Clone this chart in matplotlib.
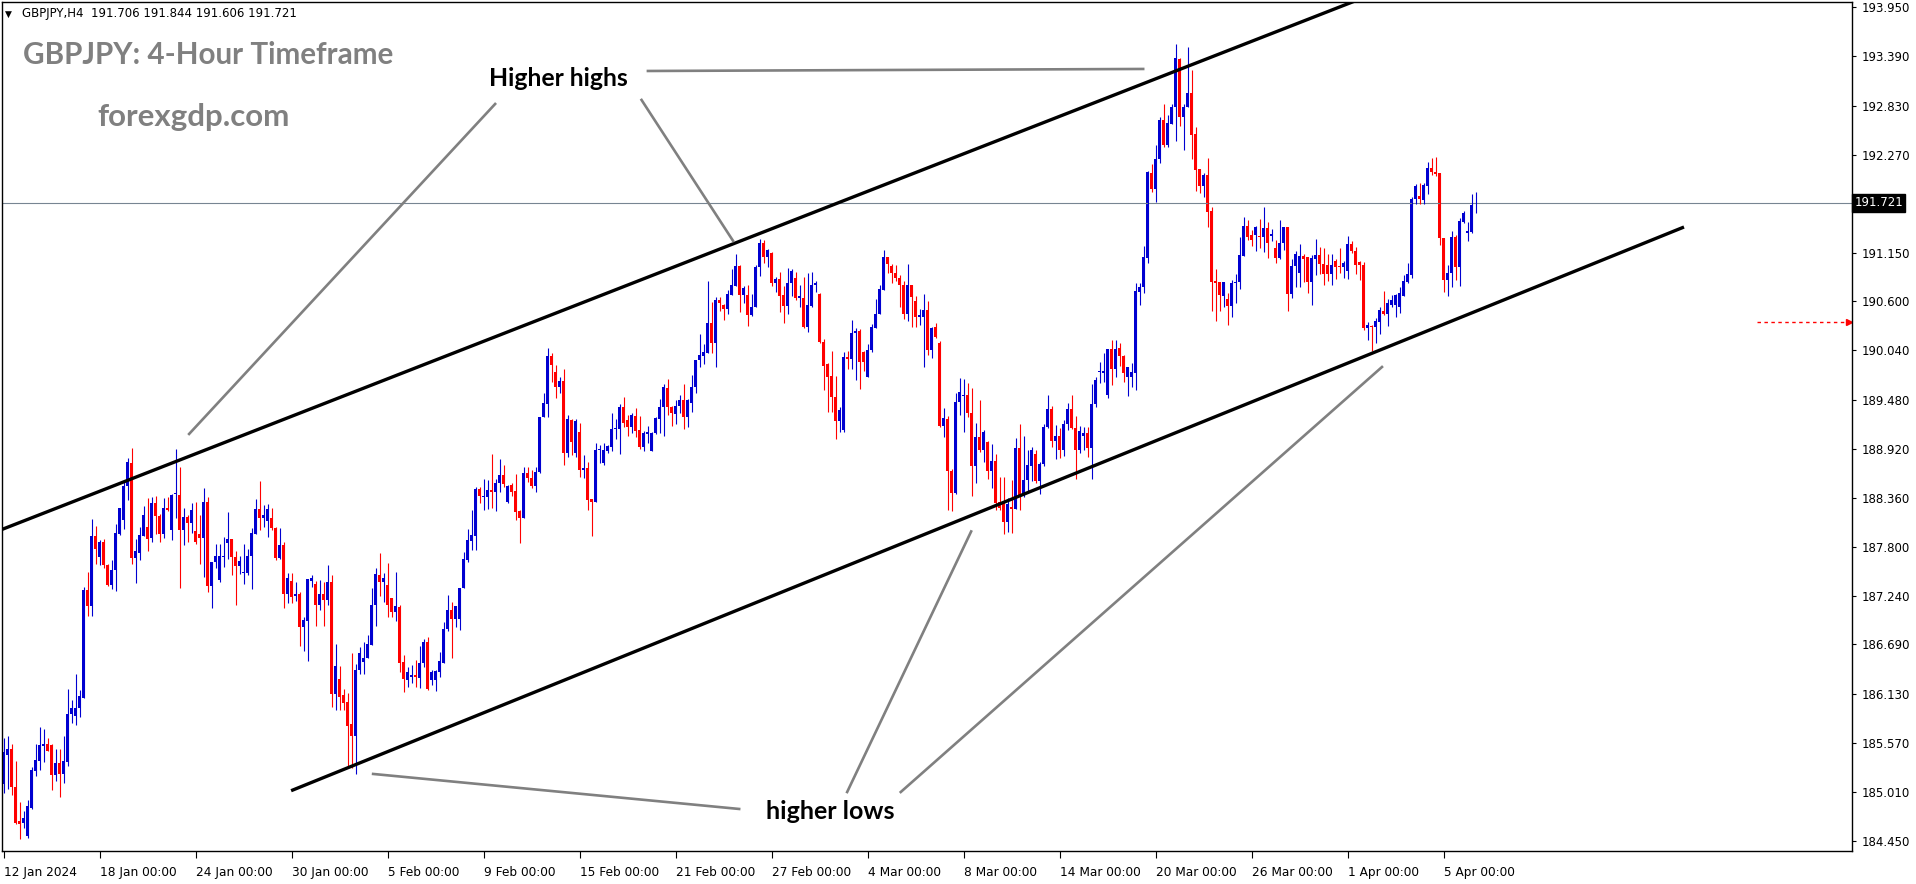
import numpy as np
import matplotlib
matplotlib.use('Agg')
import matplotlib.pyplot as plt

# GBPJPY H4 candles, 12 Jan 2024 .. 8 Apr 2024 (open, high, low, close)
candles = [
    (185.10, 185.62, 185.00, 185.46), (185.43, 185.65, 185.04, 185.50), (185.50, 185.55, 184.97, 185.07),
    (185.07, 185.36, 184.64, 184.66), (184.68, 184.89, 184.47, 184.64), (184.65, 184.79, 184.60, 184.71),
    (184.51, 184.92, 184.48, 184.85), (184.83, 185.29, 184.82, 185.26), (185.25, 185.55, 185.19, 185.37),
    (185.36, 185.75, 185.26, 185.54), (185.53, 185.73, 185.35, 185.56), (185.56, 185.62, 185.47, 185.48),
    (185.54, 185.55, 185.03, 185.20), (185.20, 185.50, 185.13, 185.34), (185.34, 185.50, 184.95, 185.21),
    (185.21, 185.65, 185.11, 185.36), (185.35, 186.18, 185.31, 185.90), (185.90, 186.06, 185.80, 185.97),
    (185.87, 186.35, 185.77, 185.97), (185.97, 186.17, 185.86, 186.10), (186.08, 187.34, 186.08, 187.31),
    (187.31, 187.52, 187.01, 187.13), (187.13, 188.12, 187.01, 187.93), (187.93, 188.04, 187.61, 187.78),
    (187.69, 187.88, 187.60, 187.86), (187.86, 187.89, 187.56, 187.60), (187.60, 187.61, 187.36, 187.37),
    (187.37, 187.65, 187.32, 187.54), (187.54, 188.06, 187.30, 187.96), (187.95, 188.25, 187.94, 188.24),
    (188.11, 188.56, 188.00, 188.50), (188.49, 188.81, 188.33, 188.77), (188.76, 188.93, 187.61, 187.67),
    (187.67, 187.89, 187.39, 187.75), (187.73, 188.03, 187.65, 187.94), (187.93, 188.27, 187.93, 188.17),
    (188.03, 188.36, 187.76, 187.89), (187.90, 188.37, 187.86, 188.30), (188.30, 188.38, 187.95, 188.15),
    (188.15, 188.18, 187.86, 187.95), (187.95, 188.36, 187.90, 188.25), (188.25, 188.37, 188.21, 188.22),
    (187.99, 188.40, 187.88, 188.39), (188.40, 188.92, 188.13, 188.42), (188.39, 188.71, 187.33, 187.99),
    (187.99, 188.25, 187.82, 188.14), (188.14, 188.16, 187.86, 188.07), (188.07, 188.30, 187.96, 188.22),
    (187.98, 188.31, 187.83, 187.86), (187.95, 188.16, 187.61, 187.90), (187.90, 188.47, 187.46, 188.31),
    (188.31, 188.37, 187.29, 187.35), (187.35, 187.63, 187.10, 187.63), (187.63, 187.83, 187.56, 187.70),
    (187.42, 187.83, 187.40, 187.70), (187.69, 187.91, 187.57, 187.70), (187.85, 188.20, 187.66, 187.89),
    (187.89, 187.89, 187.48, 187.69), (187.69, 187.75, 187.14, 187.58), (187.58, 187.70, 187.49, 187.64),
    (187.50, 187.83, 187.38, 187.51), (187.50, 187.78, 187.48, 187.70), (187.70, 188.02, 187.32, 187.96),
    (187.95, 188.35, 187.95, 188.23), (188.23, 188.55, 187.99, 188.13), (188.13, 188.28, 188.03, 188.16),
    (188.10, 188.29, 187.91, 188.23), (188.13, 188.24, 187.99, 188.02), (188.02, 188.03, 187.65, 187.67),
    (187.67, 188.02, 187.66, 187.82), (187.82, 187.86, 187.10, 187.26), (187.26, 187.50, 187.16, 187.45),
    (187.41, 187.50, 187.16, 187.23), (187.24, 187.40, 187.19, 187.26), (187.26, 187.29, 186.67, 186.89),
    (186.89, 187.00, 186.62, 186.97), (186.96, 187.43, 186.50, 187.43), (187.41, 187.48, 187.34, 187.45),
    (187.38, 187.41, 186.90, 187.14), (187.14, 187.42, 187.08, 187.26), (187.26, 187.40, 186.90, 187.20),
    (187.20, 187.60, 187.14, 187.40), (187.40, 187.48, 185.98, 186.13), (186.13, 186.69, 185.94, 186.44),
    (186.30, 186.44, 185.94, 186.09), (186.11, 186.18, 185.94, 186.02), (186.03, 186.14, 185.31, 185.76),
    (185.78, 186.59, 185.28, 185.65), (185.65, 186.47, 185.21, 186.40), (186.40, 186.66, 186.35, 186.59),
    (186.49, 186.72, 186.35, 186.54), (186.53, 186.80, 186.53, 186.69), (186.68, 187.33, 186.68, 187.14),
    (187.14, 187.56, 186.90, 187.49), (187.48, 187.73, 187.24, 187.40), (187.40, 187.50, 187.17, 187.45),
    (187.37, 187.62, 187.00, 187.14), (187.22, 187.22, 187.00, 187.06), (187.06, 187.51, 186.96, 187.13),
    (187.12, 187.14, 186.38, 186.48), (186.49, 186.57, 186.15, 186.30), (186.28, 186.43, 186.20, 186.37),
    (186.32, 186.45, 186.25, 186.34), (186.34, 186.51, 186.21, 186.32), (186.31, 186.67, 186.19, 186.48),
    (186.48, 186.75, 186.43, 186.72), (186.72, 186.77, 186.17, 186.18), (186.29, 186.40, 186.23, 186.37),
    (186.29, 186.40, 186.16, 186.39), (186.38, 186.60, 186.32, 186.50), (186.48, 186.95, 186.48, 186.87),
    (186.86, 187.25, 186.84, 187.08), (187.08, 187.17, 186.54, 186.98), (186.98, 187.13, 186.89, 187.13),
    (186.98, 187.33, 186.85, 187.33), (187.33, 187.74, 187.33, 187.66), (187.65, 188.00, 187.63, 187.88),
    (187.87, 188.22, 187.77, 187.94), (187.93, 188.48, 187.77, 188.46), (188.46, 188.48, 188.30, 188.38),
    (188.37, 188.58, 188.22, 188.38), (188.37, 188.56, 188.23, 188.45), (188.45, 188.86, 188.25, 188.43),
    (188.43, 188.58, 188.21, 188.53), (188.53, 188.80, 188.43, 188.62), (188.62, 188.74, 188.48, 188.52),
    (188.31, 188.51, 188.30, 188.50), (188.51, 188.53, 188.38, 188.43), (188.44, 188.63, 188.11, 188.20),
    (188.21, 188.22, 187.85, 188.13), (188.13, 188.71, 188.13, 188.64), (188.64, 188.71, 188.54, 188.59),
    (188.59, 188.68, 188.47, 188.49), (188.49, 188.71, 188.43, 188.66), (188.65, 189.28, 188.64, 189.28),
    (189.28, 189.55, 189.28, 189.44), (189.43, 190.07, 189.28, 189.98), (189.98, 190.01, 189.68, 189.87),
    (189.79, 189.87, 189.50, 189.62), (189.62, 189.74, 189.55, 189.69), (189.69, 189.83, 188.73, 188.87),
    (188.87, 189.30, 188.83, 189.26), (189.25, 189.26, 188.85, 189.00), (188.87, 189.26, 188.83, 189.24),
    (189.11, 189.21, 188.60, 188.68), (188.68, 188.85, 188.59, 188.70), (188.70, 188.77, 188.22, 188.34),
    (188.35, 188.35, 187.93, 188.31), (188.31, 188.99, 188.31, 188.91), (188.90, 188.96, 188.76, 188.91),
    (188.76, 188.99, 188.73, 188.90), (188.89, 188.96, 188.87, 188.95), (188.94, 189.33, 188.89, 189.15),
    (189.14, 189.26, 189.03, 189.16), (189.15, 189.43, 188.86, 189.39), (189.39, 189.51, 189.17, 189.21),
    (189.25, 189.30, 189.07, 189.17), (189.17, 189.33, 189.10, 189.30), (189.29, 189.38, 189.05, 189.12),
    (189.13, 189.29, 188.92, 188.94), (188.94, 189.12, 188.89, 189.10), (189.09, 189.18, 188.98, 189.11),
    (188.89, 189.11, 188.89, 189.10), (189.10, 189.28, 189.09, 189.27), (189.26, 189.49, 189.10, 189.40),
    (189.39, 189.66, 189.07, 189.62), (189.61, 189.71, 189.30, 189.40), (189.40, 189.41, 189.18, 189.33),
    (189.32, 189.48, 189.20, 189.41), (189.41, 189.53, 189.33, 189.48), (189.48, 189.66, 189.14, 189.28),
    (189.28, 189.49, 189.17, 189.48), (189.44, 189.76, 189.34, 189.62), (189.62, 189.93, 189.55, 189.93),
    (189.93, 190.23, 189.85, 189.99), (189.98, 190.11, 189.88, 190.02), (190.01, 190.83, 190.01, 190.35),
    (190.35, 190.59, 190.01, 190.12), (190.12, 190.65, 189.85, 190.62), (190.62, 190.65, 190.49, 190.58),
    (190.56, 190.57, 190.39, 190.51), (190.51, 190.73, 190.46, 190.68), (190.67, 190.97, 190.67, 190.78),
    (190.77, 191.14, 190.77, 191.00), (191.00, 191.01, 190.48, 190.67), (190.67, 190.77, 190.58, 190.75),
    (190.67, 190.78, 190.32, 190.44), (190.44, 190.68, 190.43, 190.54), (190.53, 191.01, 190.53, 190.99),
    (190.99, 191.31, 190.89, 191.26), (191.26, 191.30, 191.04, 191.10), (191.10, 191.19, 190.99, 191.18),
    (191.15, 191.16, 190.77, 190.81), (190.81, 190.88, 190.71, 190.85), (190.85, 190.93, 190.48, 190.66),
    (190.67, 190.77, 190.35, 190.55), (190.55, 190.98, 190.45, 190.81), (190.81, 190.97, 190.66, 190.94),
    (190.87, 190.93, 190.62, 190.64), (190.64, 190.78, 190.54, 190.66), (190.64, 190.88, 190.29, 190.31),
    (190.31, 190.92, 190.25, 190.56), (190.55, 190.93, 190.54, 190.79), (190.78, 190.83, 190.70, 190.81),
    (190.68, 190.69, 190.12, 190.14), (190.14, 190.17, 189.59, 189.86), (189.88, 189.90, 189.34, 189.74),
    (189.75, 190.03, 189.34, 189.51), (189.51, 189.75, 189.03, 189.24), (189.24, 189.39, 189.11, 189.36),
    (189.13, 190.02, 189.11, 189.96), (189.96, 190.03, 189.83, 189.94), (189.94, 190.39, 189.83, 190.24),
    (190.24, 190.29, 189.70, 190.26), (190.26, 190.28, 189.60, 189.91), (190.02, 190.03, 189.80, 189.91),
    (189.74, 190.11, 189.74, 190.05), (190.05, 190.34, 190.02, 190.31), (190.30, 190.63, 190.30, 190.46),
    (190.45, 190.78, 190.45, 190.74), (190.73, 191.18, 190.73, 191.10), (191.10, 191.11, 190.92, 191.03),
    (191.00, 191.03, 190.81, 190.92), (190.92, 191.01, 190.83, 190.86), (190.87, 190.90, 190.53, 190.78),
    (190.78, 190.83, 190.40, 190.46), (190.46, 191.03, 190.38, 190.78), (190.78, 190.78, 190.31, 190.65),
    (190.60, 190.66, 190.31, 190.42), (190.42, 190.51, 190.33, 190.44), (190.42, 190.68, 189.85, 190.50),
    (190.50, 190.60, 189.99, 190.04), (190.04, 190.31, 189.95, 190.30), (190.31, 190.35, 190.18, 190.19),
    (190.12, 190.15, 189.17, 189.18), (189.18, 189.38, 189.05, 189.27), (189.26, 189.29, 188.22, 188.67),
    (188.67, 188.69, 188.21, 188.41), (188.41, 189.55, 188.40, 189.45), (189.45, 189.73, 189.30, 189.57),
    (189.52, 189.71, 189.11, 189.53), (189.53, 189.67, 189.28, 189.33), (189.33, 189.61, 188.38, 188.72),
    (188.72, 189.21, 188.53, 189.05), (189.05, 189.48, 188.88, 188.90), (188.90, 189.13, 188.77, 189.11),
    (189.00, 189.01, 188.57, 188.67), (188.67, 188.97, 188.47, 188.78), (188.78, 188.86, 188.22, 188.30),
    (188.31, 188.60, 188.22, 188.25), (188.30, 188.60, 187.95, 188.08), (188.08, 188.36, 187.97, 188.29),
    (188.26, 188.56, 187.96, 188.23), (188.23, 189.04, 188.23, 188.93), (188.93, 189.20, 188.22, 188.39),
    (188.39, 189.07, 188.37, 188.56), (188.56, 188.91, 188.43, 188.73), (188.72, 188.94, 188.55, 188.90),
    (188.86, 188.91, 188.53, 188.55), (188.55, 188.77, 188.40, 188.75), (188.75, 189.20, 188.72, 189.17),
    (189.17, 189.53, 189.16, 189.37), (189.37, 189.41, 188.94, 189.01), (189.01, 189.19, 188.80, 189.07),
    (189.07, 189.16, 188.81, 188.91), (188.91, 189.25, 188.84, 189.20), (189.20, 189.44, 189.13, 189.37),
    (189.37, 189.53, 189.14, 189.16), (189.16, 189.29, 188.58, 188.91), (188.91, 189.18, 188.87, 189.12),
    (189.06, 189.17, 188.91, 189.10), (189.10, 189.17, 188.83, 188.93), (188.93, 189.66, 188.58, 189.43),
    (189.43, 189.74, 189.40, 189.70), (189.79, 189.91, 189.67, 189.80), (189.78, 190.01, 189.68, 189.80),
    (189.53, 190.06, 189.50, 190.06), (190.06, 190.16, 189.65, 189.83), (189.83, 190.16, 189.74, 190.06),
    (190.07, 190.12, 189.86, 189.98), (189.98, 189.99, 189.68, 189.78), (189.74, 189.85, 189.52, 189.85),
    (189.74, 189.90, 189.62, 189.79), (189.78, 190.81, 189.59, 190.72), (190.71, 190.81, 190.56, 190.76),
    (190.76, 191.23, 190.69, 191.10), (191.09, 192.08, 191.04, 192.07), (192.06, 192.16, 191.85, 191.88),
    (191.88, 192.38, 191.73, 192.22), (192.22, 192.70, 192.18, 192.67), (192.67, 192.85, 192.36, 192.38),
    (192.38, 192.72, 192.36, 192.63), (192.62, 192.85, 192.62, 192.81), (192.81, 193.53, 192.43, 193.37),
    (193.36, 193.37, 192.60, 192.70), (192.70, 192.85, 192.32, 192.81), (192.81, 193.50, 192.81, 192.97),
    (192.97, 193.24, 192.22, 192.49), (192.51, 192.59, 191.86, 192.10), (192.11, 192.11, 191.83, 191.91),
    (191.91, 192.06, 191.79, 192.04), (192.04, 192.23, 191.45, 191.62), (191.63, 191.67, 190.49, 190.82),
    (190.83, 190.97, 190.38, 190.81), (190.82, 190.82, 190.49, 190.67), (190.66, 190.82, 190.54, 190.82),
    (190.63, 190.69, 190.33, 190.55), (190.55, 190.84, 190.42, 190.81), (190.81, 190.91, 190.58, 190.82),
    (190.82, 191.33, 190.74, 191.13), (191.12, 191.56, 191.12, 191.46), (191.46, 191.53, 191.30, 191.33),
    (191.36, 191.41, 191.23, 191.30), (191.36, 191.46, 191.17, 191.45), (191.34, 191.54, 191.21, 191.33),
    (191.33, 191.67, 191.16, 191.43), (191.43, 191.50, 191.09, 191.26), (191.34, 191.42, 191.29, 191.37),
    (191.21, 191.30, 191.04, 191.09), (191.09, 191.53, 191.08, 191.26), (191.26, 191.45, 191.18, 191.45),
    (191.45, 191.45, 190.49, 190.68), (190.68, 191.08, 190.64, 191.00), (191.00, 191.17, 190.76, 191.14),
    (190.92, 191.25, 190.76, 191.12), (191.12, 191.14, 190.82, 191.08), (191.10, 191.10, 190.69, 190.82),
    (190.82, 191.13, 190.56, 191.09), (191.08, 191.31, 190.90, 191.13), (191.13, 191.22, 190.91, 191.02),
    (191.02, 191.21, 190.79, 190.91), (191.01, 191.14, 190.83, 190.91), (190.91, 191.14, 190.79, 191.01),
    (191.06, 191.08, 190.85, 190.99), (191.00, 191.21, 190.92, 190.99), (190.99, 191.06, 190.87, 191.04),
    (190.95, 191.34, 190.85, 191.25), (191.25, 191.29, 191.15, 191.17), (191.17, 191.22, 190.91, 191.01),
    (191.05, 191.06, 190.84, 191.01), (191.01, 191.05, 190.27, 190.30), (190.30, 190.36, 190.16, 190.33),
    (190.32, 190.33, 190.03, 190.31), (190.31, 190.41, 190.12, 190.38), (190.36, 190.53, 190.23, 190.50),
    (190.49, 190.72, 190.44, 190.46), (190.46, 190.63, 190.32, 190.58), (190.56, 190.67, 190.54, 190.61),
    (190.56, 190.68, 190.42, 190.67), (190.53, 190.76, 190.47, 190.69), (190.66, 190.90, 190.66, 190.83),
    (190.82, 191.04, 190.81, 190.91), (190.90, 191.79, 190.87, 191.77), (191.77, 191.94, 191.71, 191.91),
    (191.80, 191.95, 191.71, 191.77), (191.75, 191.95, 191.71, 191.93), (191.91, 192.19, 191.82, 192.12),
    (192.12, 192.23, 192.04, 192.07), (192.07, 192.24, 192.03, 192.05), (192.06, 192.06, 191.24, 191.32),
    (191.32, 191.32, 190.71, 190.84), (190.84, 191.01, 190.66, 190.92), (190.92, 191.40, 190.76, 191.33),
    (191.33, 191.36, 190.84, 190.99), (190.99, 191.55, 190.77, 191.51), (191.50, 191.63, 191.49, 191.61),
    (191.38, 191.50, 191.29, 191.40), (191.39, 191.82, 191.38, 191.70), (191.706, 191.844, 191.606, 191.721),
]

date_labels = ['12 Jan 2024', '18 Jan 00:00', '24 Jan 00:00', '30 Jan 00:00', '5 Feb 00:00',
               '9 Feb 00:00', '15 Feb 00:00', '21 Feb 00:00', '27 Feb 00:00', '4 Mar 00:00',
               '8 Mar 00:00', '14 Mar 00:00', '20 Mar 00:00', '26 Mar 00:00', '1 Apr 00:00',
               '5 Apr 00:00']
date_bars = [24 * k for k in range(len(date_labels))]

price_ticks = [193.950, 193.390, 192.830, 192.270, 191.150, 190.600, 190.040, 189.480,
               188.920, 188.360, 187.800, 187.240, 186.690, 186.130, 185.570, 185.010, 184.450]
last_price = 191.721
alert_price = 190.364

# trend channel (bar index, price)
upper_line = [(-0.5, 187.998), (340.0, 194.06)]
lower_line = [(71.9, 185.023), (420.1, 191.446)]

# pointer lines for the labels (bar index, price)
highs_pointers = [[(122.9, 192.848), (46.4, 189.088)],
                  [(159.5, 192.894), (182.4, 191.287)],
                  [(161.1, 193.224), (284.9, 193.247)]]
lows_pointers = [[(183.9, 184.815), (92.4, 185.214)],
                 [(210.9, 185.008), (241.9, 187.977)],
                 [(224.3, 185.008), (344.6, 189.851)]]

ohlc = np.array(candles)
o, h, l, c = ohlc[:, 0], ohlc[:, 1], ohlc[:, 2], ohlc[:, 3]
x = np.arange(len(ohlc))
up = c >= o
cols = np.where(up, '#0000d0', '#ff0000')

W, H = 1916, 884
fig = plt.figure(figsize=(W / 100, H / 100), dpi=100)
ax = fig.add_axes([2 / W, 1 - 851 / H, 1850 / W, 849 / H])

ax.vlines(x, l, h, colors=cols, linewidth=0.8)
body = np.maximum(np.abs(c - o), 0.012)
ax.bar(x, body, bottom=np.minimum(o, c), width=0.78, color=cols, linewidth=0)

ax.axhline(last_price, color='#778592', linewidth=0.8, zorder=1)

for seg in [upper_line, lower_line]:
    ax.plot([seg[0][0], seg[1][0]], [seg[0][1], seg[1][1]], color='black', linewidth=2.4,
            solid_capstyle='butt')
for seg in highs_pointers + lows_pointers:
    ax.plot([seg[0][0], seg[1][0]], [seg[0][1], seg[1][1]], color='#808080', linewidth=1.9)

ax.plot([438.4, 461.0], [alert_price, alert_price], color='red', linewidth=1.0,
        linestyle=(0, (2.5, 2.5)))
ax.plot([461.3], [alert_price], marker='>', color='red', markersize=5, clip_on=False)

ax.set_xlim(-0.375, 462.1)
ax.set_ylim(184.336, 194.010)

ax.yaxis.tick_right()
ax.set_yticks(price_ticks)
ax.set_yticklabels(['%.3f' % p for p in price_ticks])
ax.set_xticks(date_bars)
ax.set_xticklabels(date_labels)
for lab in ax.get_xticklabels():
    lab.set_horizontalalignment('left')
ax.tick_params(axis='y', which='major', direction='out', length=3, width=0.8, labelsize=8.5,
               pad=4, colors='black')
ax.tick_params(axis='x', which='major', direction='out', length=5, width=0.8, labelsize=8.7,
               pad=5.5)
for sp in ax.spines.values():
    sp.set_linewidth(1.0)

ax.text(1.0012, last_price, '191.721', transform=ax.get_yaxis_transform(), fontsize=8.5,
        color='white', va='center', ha='left',
        bbox=dict(boxstyle='square,pad=0.2', facecolor='black', edgecolor='black'))

fig.text(5 / W, 1 - 17 / H, '\u25bc', fontsize=6.5, color='black', va='baseline')
fig.text(22 / W, 1 - 17 / H, 'GBPJPY,H4  191.706 191.844 191.606 191.721', fontsize=8.5,
         color='black', va='baseline')
fig.text(23 / W, 1 - 64 / H, 'GBPJPY: 4-Hour Timeframe', fontsize=21.3, fontweight='bold',
         family='Lato', color='#808080', va='baseline')
fig.text(97 / W, 1 - 126 / H, 'forexgdp.com', fontsize=22.5, fontweight='bold',
         family='Lato', color='#808080', va='baseline')
fig.text(489 / W, 1 - 86 / H, 'Higher highs', fontsize=17.8, fontweight='bold',
         family='Lato', color='black', va='baseline')
fig.text(766 / W, 1 - 819 / H, 'higher lows', fontsize=18, fontweight='bold',
         family='Lato', color='black', va='baseline')

fig.savefig('out.png', dpi=100, facecolor='white')
